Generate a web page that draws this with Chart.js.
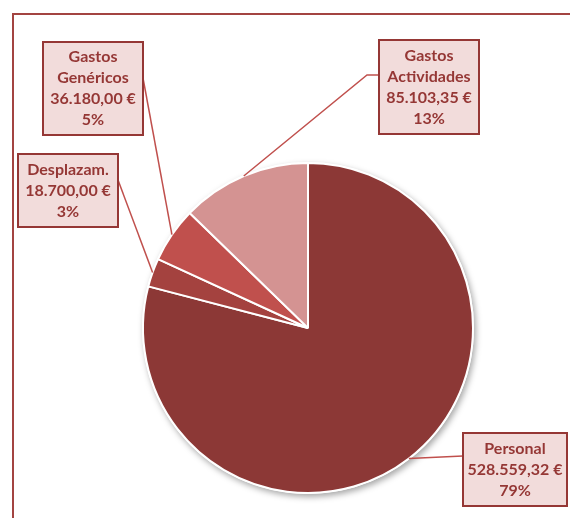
<!DOCTYPE html>
<html>
<head>
<meta charset="utf-8">
<script src="https://cdn.jsdelivr.net/npm/chart.js@4/dist/chart.umd.min.js"></script>
<style>
  html, body { margin: 0; padding: 0; background: #fff; }
  #wrap { width: 570px; height: 518px; }
</style>
</head>
<body>
<div id="wrap"><canvas id="budget-pie" width="570" height="518"></canvas></div>
<script>
const categories = ['Personal', 'Desplazam.', 'Gastos Genéricos', 'Gastos Actividades']
const labelLines = [['Personal'], ['Desplazam.'], ['Gastos', 'Genéricos'], ['Gastos', 'Actividades']]
const amounts = [528559.32, 18700.00, 36180.00, 85103.35]
const sliceColors = ['#8C3836', '#A4423F', '#C0504D', '#D49392']

// where each label box sits, and where the leader line joins it
const boxes = [
  { x: 463, y: 433, w: 104, h: 73, joinX: 463, joinY: 456 },
  { x: 18, y: 154, w: 100, h: 73, joinX: 118, joinY: 180 },
  { x: 43, y: 42, w: 100, h: 93, joinX: 143, joinY: 78 },
  { x: 379, y: 40, w: 100, h: 94, joinX: 379, joinY: 75, elbowX: 367 }
]

const textColor = '#953735'
const total = amounts.reduce((a, b) => a + b, 0)

function euro(v) {
  let parts = v.toFixed(2).split('.')
  let int = parts[0].replace(/\B(?=(\d{3})+(?!\d))/g, '.')
  return int + ',' + parts[1] + ' €'
}

const framePlugin = {
  id: 'frame',
  beforeDraw(chart) {
    const ctx = chart.ctx
    ctx.save()
    ctx.strokeStyle = '#A34441'
    ctx.lineWidth = 2
    ctx.strokeRect(13, 14, 700, 700)
    ctx.restore()
  },
  beforeDatasetsDraw(chart) {
    // soft drop shadow under the whole pie
    const arc = chart.getDatasetMeta(0).data[0]
    const ctx = chart.ctx
    ctx.save()
    ctx.shadowColor = 'rgba(0,0,0,0.35)'
    ctx.shadowBlur = 6
    ctx.shadowOffsetX = 2
    ctx.shadowOffsetY = 3
    ctx.fillStyle = '#fff'
    ctx.beginPath()
    ctx.arc(arc.x, arc.y, arc.outerRadius + 1, 0, Math.PI * 2)
    ctx.fill()
    ctx.restore()
  }
}

const calloutPlugin = {
  id: 'callouts',
  afterDatasetsDraw(chart) {
    const ctx = chart.ctx
    const arcs = chart.getDatasetMeta(0).data
    ctx.save()
    arcs.forEach(function(arc, i) {
      const b = boxes[i]
      const mid = (arc.startAngle + arc.endAngle) / 2
      const ax = arc.x + Math.cos(mid) * arc.outerRadius
      const ay = arc.y + Math.sin(mid) * arc.outerRadius

      ctx.strokeStyle = '#C0504D'
      ctx.lineWidth = 1.5
      ctx.beginPath()
      ctx.moveTo(ax, ay)
      if (b.elbowX !== undefined) ctx.lineTo(b.elbowX, b.joinY)
      ctx.lineTo(b.joinX, b.joinY)
      ctx.stroke()

      ctx.fillStyle = '#F2DCDB'
      ctx.fillRect(b.x, b.y, b.w, b.h)
      ctx.strokeStyle = textColor
      ctx.lineWidth = 2
      ctx.strokeRect(b.x, b.y, b.w, b.h)

      const lines = labelLines[i].concat([euro(amounts[i]), Math.round(amounts[i] / total * 100) + '%'])
      const lh = 21
      ctx.fillStyle = textColor
      ctx.font = 'bold 16px Lato, "Open Sans", sans-serif'
      ctx.textAlign = 'center'
      ctx.textBaseline = 'middle'
      const top = b.y + b.h / 2 - (lines.length - 1) * lh / 2
      lines.forEach(function(t, k) {
        ctx.fillText(t, b.x + b.w / 2, top + k * lh)
      })
    })
    ctx.restore()
  }
}

new Chart(document.getElementById('budget-pie'), {
  type: 'pie',
  data: {
    labels: categories,
    datasets: [{
      data: amounts,
      backgroundColor: sliceColors,
      borderColor: '#ffffff',
      borderWidth: 2
    }]
  },
  options: {
    responsive: false,
    animation: false,
    layout: { padding: { left: 142, right: 96, top: 162, bottom: 24 } },
    plugins: {
      legend: { display: false },
      tooltip: { enabled: false }
    }
  },
  plugins: [framePlugin, calloutPlugin]
})
</script>
</body>
</html>
